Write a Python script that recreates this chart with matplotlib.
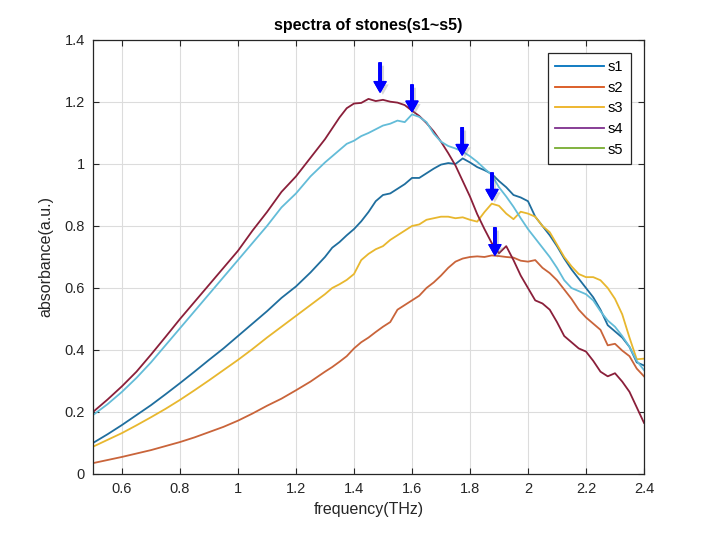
import numpy as np
import matplotlib
matplotlib.use('Agg')
import matplotlib.pyplot as plt
import matplotlib.patheffects as pe
from matplotlib.lines import Line2D

plt.rcParams['font.family'] = ['Liberation Sans', 'DejaVu Sans']

# --- data ---
freq = [0.50, 0.55, 0.60, 0.65, 0.70, 0.75, 0.80, 0.85, 0.90, 0.95,
        1.00, 1.05, 1.10, 1.15, 1.20, 1.25, 1.30, 1.325, 1.35, 1.375,
        1.40, 1.425, 1.45, 1.475, 1.50, 1.525, 1.55, 1.575, 1.60, 1.625,
        1.65, 1.675, 1.70, 1.725, 1.75, 1.775, 1.80, 1.825, 1.85, 1.875,
        1.90, 1.925, 1.95, 1.975, 2.00, 2.025, 2.05, 2.075, 2.10, 2.125,
        2.15, 2.175, 2.20, 2.225, 2.25, 2.275, 2.30, 2.325, 2.35, 2.375,
        2.40]

s1 = [0.100, 0.128, 0.158, 0.190, 0.222, 0.257, 0.293, 0.330, 0.368, 0.405,
      0.445, 0.485, 0.525, 0.568, 0.605, 0.650, 0.700, 0.730, 0.748, 0.770,
      0.790, 0.815, 0.845, 0.880, 0.900, 0.905, 0.920, 0.935, 0.955, 0.955,
      0.970, 0.985, 0.998, 1.003, 1.000, 1.018, 1.005, 0.990, 0.980, 0.968,
      0.945, 0.925, 0.900, 0.892, 0.880, 0.830, 0.800, 0.770, 0.735, 0.695,
      0.660, 0.630, 0.600, 0.570, 0.530, 0.480, 0.460, 0.440, 0.410, 0.360,
      0.350]

s2 = [0.035, 0.045, 0.055, 0.066, 0.077, 0.090, 0.103, 0.118, 0.135, 0.152,
      0.172, 0.195, 0.220, 0.243, 0.270, 0.298, 0.330, 0.345, 0.362, 0.380,
      0.405, 0.425, 0.440, 0.458, 0.475, 0.490, 0.530, 0.545, 0.560, 0.575,
      0.600, 0.618, 0.640, 0.665, 0.685, 0.695, 0.700, 0.702, 0.700, 0.705,
      0.703, 0.700, 0.698, 0.688, 0.685, 0.690, 0.665, 0.648, 0.625, 0.595,
      0.565, 0.530, 0.505, 0.485, 0.465, 0.415, 0.420, 0.398, 0.380, 0.340,
      0.315]

s3 = [0.088, 0.110, 0.132, 0.157, 0.183, 0.210, 0.239, 0.270, 0.302, 0.335,
      0.368, 0.403, 0.440, 0.475, 0.510, 0.545, 0.580, 0.600, 0.612, 0.626,
      0.645, 0.690, 0.710, 0.725, 0.735, 0.755, 0.770, 0.785, 0.800, 0.805,
      0.820, 0.825, 0.830, 0.830, 0.825, 0.828, 0.820, 0.814, 0.845, 0.872,
      0.865, 0.840, 0.822, 0.846, 0.840, 0.830, 0.800, 0.780, 0.740, 0.700,
      0.670, 0.645, 0.635, 0.635, 0.625, 0.600, 0.565, 0.515, 0.440, 0.370,
      0.372]

s4 = [0.200, 0.240, 0.283, 0.330, 0.385, 0.442, 0.500, 0.555, 0.610, 0.665,
      0.720, 0.785, 0.845, 0.910, 0.960, 1.020, 1.080, 1.115, 1.150, 1.180,
      1.195, 1.197, 1.210, 1.203, 1.207, 1.201, 1.198, 1.190, 1.172, 1.155,
      1.132, 1.105, 1.072, 1.035, 0.995, 0.945, 0.895, 0.838, 0.790, 0.745,
      0.712, 0.735, 0.690, 0.640, 0.600, 0.560, 0.550, 0.530, 0.490, 0.445,
      0.425, 0.405, 0.395, 0.365, 0.330, 0.315, 0.325, 0.298, 0.265, 0.215,
      0.165]

s5 = [0.190, 0.225, 0.265, 0.310, 0.360, 0.415, 0.470, 0.525, 0.580, 0.635,
      0.690, 0.745, 0.800, 0.860, 0.905, 0.960, 1.005, 1.025, 1.045, 1.065,
      1.075, 1.090, 1.100, 1.112, 1.124, 1.130, 1.140, 1.135, 1.160, 1.152,
      1.135, 1.098, 1.072, 1.058, 1.050, 1.040, 1.025, 1.007, 0.985, 0.965,
      0.925, 0.895, 0.862, 0.825, 0.790, 0.760, 0.730, 0.700, 0.665, 0.625,
      0.600, 0.590, 0.580, 0.560, 0.525, 0.495, 0.475, 0.445, 0.410, 0.365,
      0.335]

labels = ['s1', 's2', 's3', 's4', 's5']
# colours of the drawn curves
line_colors = ['#1f6e9e', '#c9643a', '#e8b72e', '#8a1f3a', '#63bcd8']
# colours shown in the legend box (MATLAB defaults)
legend_colors = ['#0072bd', '#d95319', '#edb120', '#7e2f8e', '#77ac30']

# peak markers: x position, tip height, top height
arrow_x = [1.49, 1.60, 1.773, 1.876, 1.886]
arrow_tip = [1.232, 1.169, 1.029, 0.884, 0.706]
arrow_top = [1.326, 1.255, 1.117, 0.971, 0.794]

xticks = [0.6, 0.8, 1.0, 1.2, 1.4, 1.6, 1.8, 2.0, 2.2, 2.4]
xticklabels = ['0.6', '0.8', '1', '1.2', '1.4', '1.6', '1.8', '2', '2.2', '2.4']
yticks = [0, 0.2, 0.4, 0.6, 0.8, 1.0, 1.2, 1.4]
yticklabels = ['0', '0.2', '0.4', '0.6', '0.8', '1', '1.2', '1.4']

fig = plt.figure(figsize=(7.13, 5.34), dpi=100)
ax = fig.add_axes([0.1304, 0.1124, 0.7728, 0.8127])

series = [s1, s2, s3, s4, s5]
for ys, c in zip(series, line_colors):
    ax.plot(freq, ys, color=c, lw=1.3)

for x, yt, y0 in zip(arrow_x, arrow_tip, arrow_top):
    ax.annotate('', xy=(x, yt), xytext=(x, y0),
                arrowprops=dict(arrowstyle='simple,head_length=0.75,head_width=0.85,tail_width=0.17',
                                color='#0000ff', shrinkA=0, shrinkB=0,
                                path_effects=[pe.withSimplePatchShadow(offset=(2, -2), shadow_rgbFace='0.5', alpha=0.3),
                                              pe.Normal()]))

ax.set_xlim(0.5, 2.4)
ax.set_ylim(0, 1.4)
ax.set_xticks(xticks)
ax.set_xticklabels(xticklabels)
ax.set_yticks(yticks)
ax.set_yticklabels(yticklabels)
ax.tick_params(direction='in', top=True, right=True, labelsize=10.5,
               colors='#262626', length=4, width=0.8, pad=6)
for sp in ax.spines.values():
    sp.set_color('#262626')
    sp.set_linewidth(0.9)
ax.grid(True, color='#dcdcdc', lw=0.8)
ax.set_axisbelow(True)

ax.set_xlabel('frequency(THz)', fontsize=11.5, color='#262626', labelpad=4)
ax.set_ylabel('absorbance(a.u.)', fontsize=11.5, color='#262626', labelpad=8)
ax.set_title('spectra of stones(s1~s5)', fontsize=11.5, fontweight='bold', pad=7)

handles = [Line2D([], [], color=c, lw=1.3) for c in legend_colors]
leg = ax.legend(handles, labels, loc='upper right', bbox_to_anchor=(0.976, 0.970),
                borderaxespad=0, fancybox=False, framealpha=1, edgecolor='#262626',
                fontsize=10.5, handlelength=3.3, labelspacing=0.45, handletextpad=0.3,
                borderpad=0.5)
leg.get_frame().set_linewidth(0.9)

fig.savefig('out.png', dpi=100)
